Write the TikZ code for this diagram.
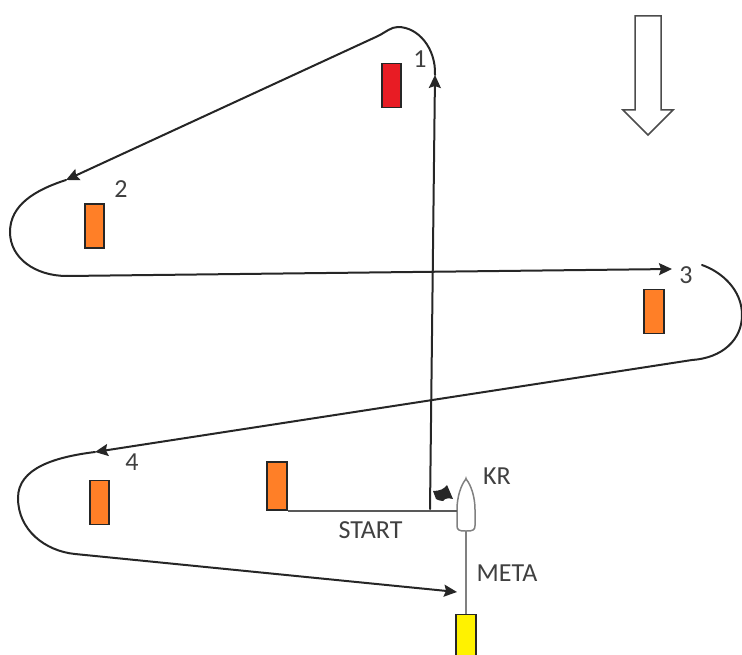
\documentclass[tikz,border=0pt]{standalone}
\usepackage{fontspec}
\setmainfont{Carlito}
\usetikzlibrary{arrows.meta}
\tikzset{
  buoy/.style={draw=black!85, line width=1.8pt, minimum width=19.5pt, minimum height=44pt, inner sep=0pt},
  lab/.style={inner sep=0pt, text=black!75, font=\fontsize{26}{28}\selectfont},
  course/.style={line width=2pt, black!85, line cap=round},
  courseto/.style={course, -{Stealth[length=13pt,width=12pt,inset=2pt]}},
  thin line/.style={line width=1.5pt, black!50},
}
\begin{document}
\begin{tikzpicture}[x=1pt,y=-1pt]
\useasboundingbox (0,0) rectangle (742,655);
\clip (0,0) rectangle (742,655);
% buoys
\node[buoy, fill={rgb,255:red,232;green,28;blue,36}] (buoy1) at (391.5,85.5){};
\node[buoy, fill={rgb,255:red,255;green,127;blue,39}] (buoy2) at (94.5,226){};
\node[buoy, fill={rgb,255:red,255;green,127;blue,39}] (buoy3) at (654,311.5){};
\node[buoy, fill={rgb,255:red,255;green,127;blue,39}] (buoy4) at (99.5,502.5){};
\node[buoy, fill={rgb,255:red,255;green,127;blue,39}, minimum height=48pt] (buoys) at (277,486){};
\node[buoy, fill={rgb,255:red,255;green,242;blue,0}] (buoym) at (466,636.5){};
% labels
\node[lab] (lab1) at (420,59){1};
\node[lab] (lab2) at (121,189){2};
\node[lab] (lab3) at (686,275){3};
\node[lab] (lab4) at (132,462){4};
\node[lab] (labkr) at (497,476){KR};
\node[lab] (labstart) at (370.5,530){START};
\node[lab] (labmeta) at (507,573){META};
% boat
\coordinate (boattip) at (466,479);
\coordinate (boatl) at (457,510);
\coordinate (boatr) at (475,510);
\coordinate (boatb) at (466,531);
\draw[thin line, fill=white, rounded corners=0.6pt] (boattip) .. controls (461,485) and (457,497) .. (boatl) -- (457,525) .. controls (457,530) and (459,531) .. (boatb) .. controls (473,531) and (475,530) .. (475,525) -- (boatr) .. controls (475,497) and (471,485) .. (boattip) -- cycle;
% flag
\fill[black!85] (433,491) .. controls (440,491) and (444,489) .. (447,485) -- (453,499) .. controls (449,498) and (445,498) .. (443,501) .. controls (440,501) and (438,500) .. (436,499) -- cycle;
% lines
\draw[thin line, black!65] (buoys.south east) -- (boatl |- buoys.south);
\draw[thin line] (boatb) -- (buoym.north);
% course
\coordinate (c0) at (430,509);
\coordinate (c1) at (435,75);
\coordinate (c2) at (66,180);
\coordinate (c3) at (672,269);
\coordinate (c3a) at (702,265);
\coordinate (c3b) at (692,360);
\coordinate (c4) at (95,452);
\coordinate (c5) at (75,554);
\coordinate (c6) at (457,592);
\draw[courseto] (c0) -- (c1);
\draw[courseto] (c1) .. controls (436,48) and (418,27) .. (398,27) .. controls (391,27) and (386,32) .. (378,36) -- (c2);
\draw[course] (c2) .. controls (35,190) and (10,205) .. (10,232) .. controls (10,258) and (35,276) .. (67,276);
\draw[courseto] (67,276) -- (c3);
\draw[course] (c3a) .. controls (722,272) and (742,290) .. (742,315) .. controls (742,340) and (722,358) .. (c3b);
\draw[courseto] (c3b) -- (c4);
\draw[course] (c4) .. controls (55,457) and (18,468) .. (18,498) .. controls (18,530) and (45,551) .. (c5);
\draw[courseto] (c5) -- (c6);
% wind arrow
\draw[line width=1.5pt, black!70, fill=white, line join=miter] (635,16) -- (661,16) -- (661,110) -- (673,110) -- (648,135) -- (623,110) -- (635,110) -- cycle;
\end{tikzpicture}
\end{document}
